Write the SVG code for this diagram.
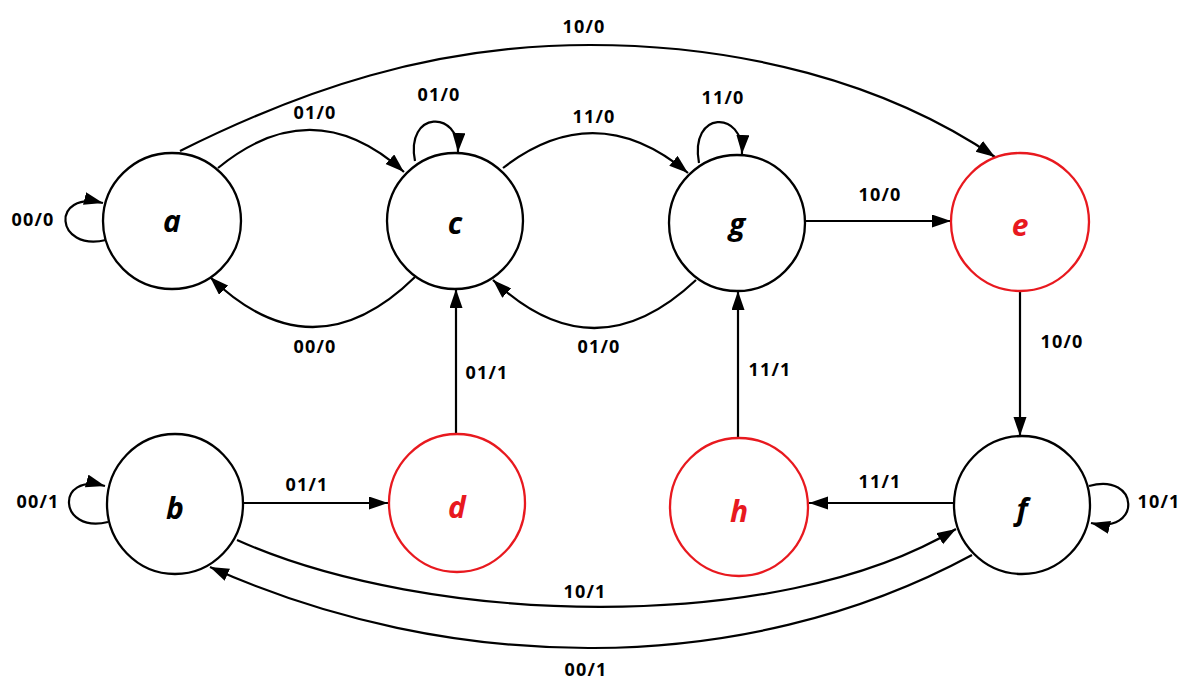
<svg xmlns="http://www.w3.org/2000/svg" width="1192" height="687" viewBox="0 0 1192 687">
<defs>
<marker id="arr" markerUnits="userSpaceOnUse" markerWidth="20" markerHeight="14" refX="19" refY="6.5" orient="auto">
<path d="M0,0 L19,6.5 L0,13 z" fill="#000"/>
</marker>
</defs>
<style>
.node{fill:#fff;stroke:#000;stroke-width:2.3}
.red{stroke:#e8191f}
.nl{font-family:"Open Sans","DejaVu Sans",sans-serif;font-weight:bold;font-style:italic;font-size:30px;text-anchor:middle;fill:#000}
.nl.r{fill:#e8191f}
.e{fill:none;stroke:#000;stroke-width:2.2;marker-end:url(#arr)}
.lb{font-family:"Open Sans","DejaVu Sans",sans-serif;font-weight:bold;font-size:18px;letter-spacing:1.2px;text-anchor:middle;fill:#000}
</style>
<rect width="1192" height="687" fill="#fff"/>
<g id="connectors">
<path class="e" d="M106,240 C55,252 50,190 103,203"/>
<path class="e" d="M218,168 Q313,90 404,172"/>
<path class="e" d="M415,161 C405,110 460,110 458,152"/>
<path class="e" d="M415,277 Q313,377 210,277"/>
<path class="e" d="M180,151 C300,91 430,45 590,45 C740,45 885,82 995,157"/>
<path class="e" d="M503,168 Q596,96 688,173"/>
<path class="e" d="M699,163 C689,110 744,110 742,154"/>
<path class="e" d="M696,280 Q594,376 493,280"/>
<path class="e" d="M806,221 L951,221"/>
<path class="e" d="M1020,291 L1020,436"/>
<path class="e" d="M456,434 L456,289"/>
<path class="e" d="M738,437 L738,291"/>
<path class="e" d="M108,522 C58,534 55,472 105,486"/>
<path class="e" d="M243,503 L388,503"/>
<path class="e" d="M954,503 L809,503"/>
<path class="e" d="M1089,486 C1140,472 1142,535 1091,523"/>
<path class="e" d="M237,540 C426,625 776,637 956,529"/>
<path class="e" d="M972,555 C741,680 448,674 210,567"/>
<text class="lb" x="33" y="226">00/0</text>
<text class="lb" x="315" y="119">01/0</text>
<text class="lb" x="439" y="101">01/0</text>
<text class="lb" x="315" y="353">00/0</text>
<text class="lb" x="584" y="33">10/0</text>
<text class="lb" x="594" y="123">11/0</text>
<text class="lb" x="723" y="104">11/0</text>
<text class="lb" x="599" y="353">01/0</text>
<text class="lb" x="880" y="201">10/0</text>
<text class="lb" x="1062" y="348">10/0</text>
<text class="lb" x="487" y="379">01/1</text>
<text class="lb" x="770" y="376">11/1</text>
<text class="lb" x="38" y="508">00/1</text>
<text class="lb" x="307" y="491">01/1</text>
<text class="lb" x="880" y="488">11/1</text>
<text class="lb" x="1159" y="508">10/1</text>
<text class="lb" x="585" y="598">10/1</text>
<text class="lb" x="586" y="676">00/1</text>
</g>
<g id="node-a"><ellipse class="node" cx="172" cy="221" rx="69" ry="68"/><text class="nl" x="172" y="232">a</text></g>
<g id="node-c"><ellipse class="node" cx="455" cy="221" rx="68" ry="68"/><text class="nl" x="455" y="234">c</text></g>
<g id="node-g"><ellipse class="node" cx="737" cy="223" rx="68" ry="68"/><text class="nl" x="737" y="235">g</text></g>
<g id="node-e"><ellipse class="node red" cx="1020" cy="222" rx="69" ry="69"/><text class="nl r" x="1020" y="236">e</text></g>
<g id="node-b"><ellipse class="node" cx="175" cy="504" rx="68" ry="70"/><text class="nl" x="175" y="519">b</text></g>
<g id="node-d"><ellipse class="node red" cx="457" cy="503" rx="68" ry="69"/><text class="nl r" x="457" y="518">d</text></g>
<g id="node-h"><ellipse class="node red" cx="739" cy="507" rx="69" ry="69"/><text class="nl r" x="739" y="522">h</text></g>
<g id="node-f"><ellipse class="node" cx="1022" cy="505" rx="68" ry="69"/><text class="nl" x="1022" y="520">f</text></g>
</svg>
